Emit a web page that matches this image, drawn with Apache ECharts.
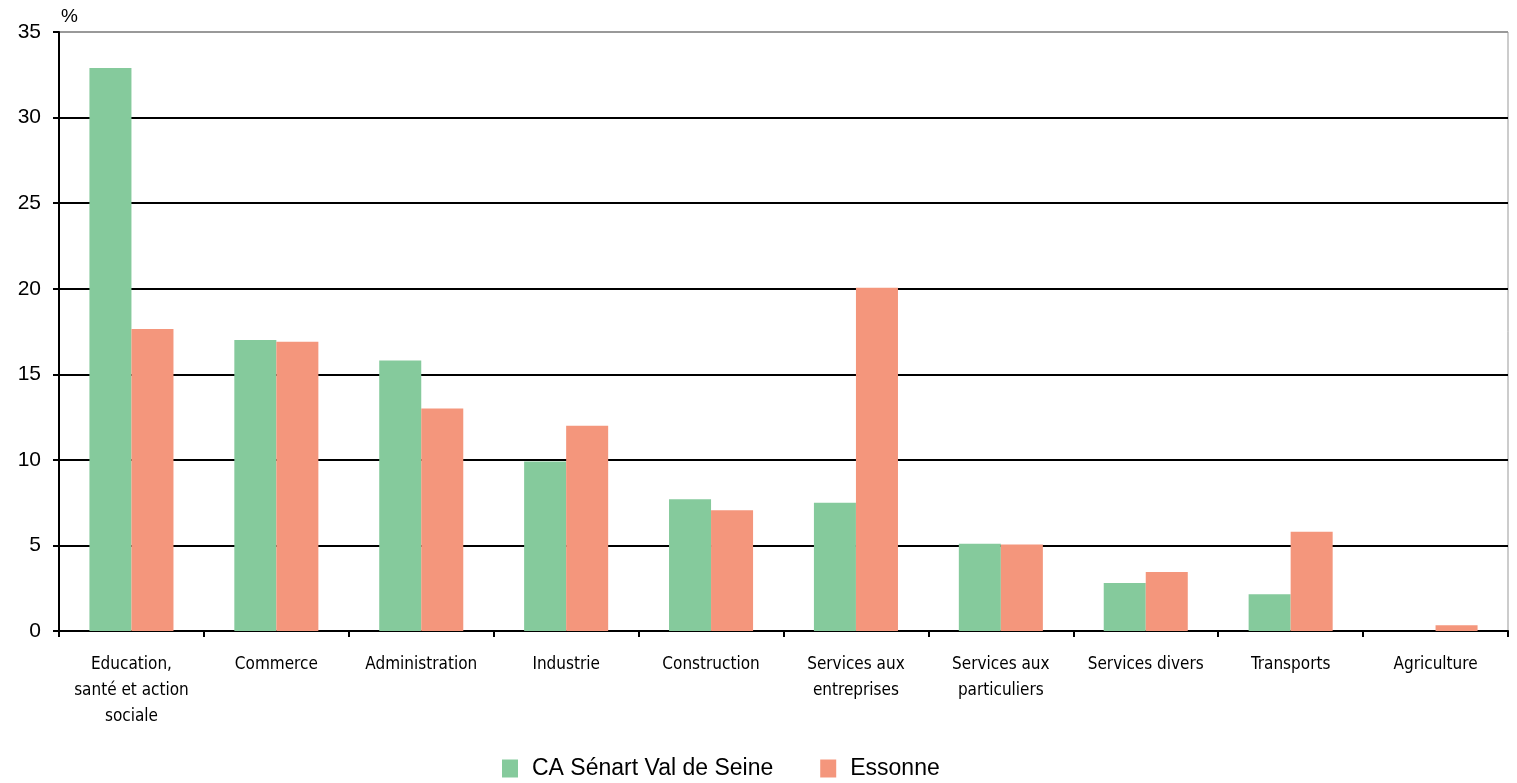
<!DOCTYPE html>
<html><head><meta charset="utf-8">
<script src="https://cdn.jsdelivr.net/npm/echarts@6/dist/echarts.min.js"></script>
<style>html,body{margin:0;padding:0;background:#fff}#c{width:1517px;height:783px}</style>
</head><body><div id="c"></div>
<script>
const categories = ["Education,\nsanté et action\nsociale","Commerce","Administration","Industrie","Construction","Services aux\nentreprises","Services aux\nparticuliers","Services divers","Transports","Agriculture"];
const senart = [32.9,17.0,15.8,9.9,7.7,7.5,5.1,2.8,2.15,0];
const essonne = [17.65,16.9,13.0,12.0,7.05,20.05,5.05,3.45,5.8,0.33];
const yTicks = {min:0,max:35,interval:5};
const chart = echarts.init(document.getElementById('c'));
chart.setOption({
  animation:false,
  grid:{left:59,right:9,top:32,bottom:152,show:true,borderColor:'#999',borderWidth:1},
  legend:{bottom:-2,left:497,itemWidth:16,itemHeight:18,itemGap:47,icon:'rect',
    textStyle:{fontFamily:'Liberation Sans, Arial',fontSize:23,color:'#000',padding:[0,0,0,9]},
    data:['CA Sénart Val de Seine','Essonne']},
  xAxis:{type:'category',data:categories,
    axisLine:{lineStyle:{color:'#000',width:2}},
    axisTick:{show:true,length:6,lineStyle:{color:'#000',width:2}},
    axisLabel:{interval:0,margin:21,fontFamily:'DejaVu Sans Condensed, Liberation Sans Narrow, Arial',fontSize:17,color:'#000',lineHeight:26}},
  yAxis:{type:'value',min:yTicks.min,max:yTicks.max,interval:yTicks.interval,
    name:'%',nameLocation:'end',nameGap:6,nameTextStyle:{fontFamily:'Liberation Sans, Arial',fontSize:19,color:'#000',align:'left',padding:[0,0,0,2]},
    axisLine:{show:true,lineStyle:{color:'#000',width:2}},
    axisTick:{show:true,length:6,inside:false,lineStyle:{color:'#000',width:2}},
    axisLabel:{margin:18,fontFamily:'Liberation Sans, Arial',fontSize:21,color:'#000'},
    splitLine:{show:true,lineStyle:{color:['#000','#000','#000','#000','#000','#000','#000','#999'],width:2}}},
  series:[
    {name:'CA Sénart Val de Seine',type:'bar',data:senart,barGap:'0%',barCategoryGap:'42%',itemStyle:{color:'#85ca9c'}},
    {name:'Essonne',type:'bar',data:essonne,itemStyle:{color:'#f4967c'}}
  ]
});
</script></body></html>
